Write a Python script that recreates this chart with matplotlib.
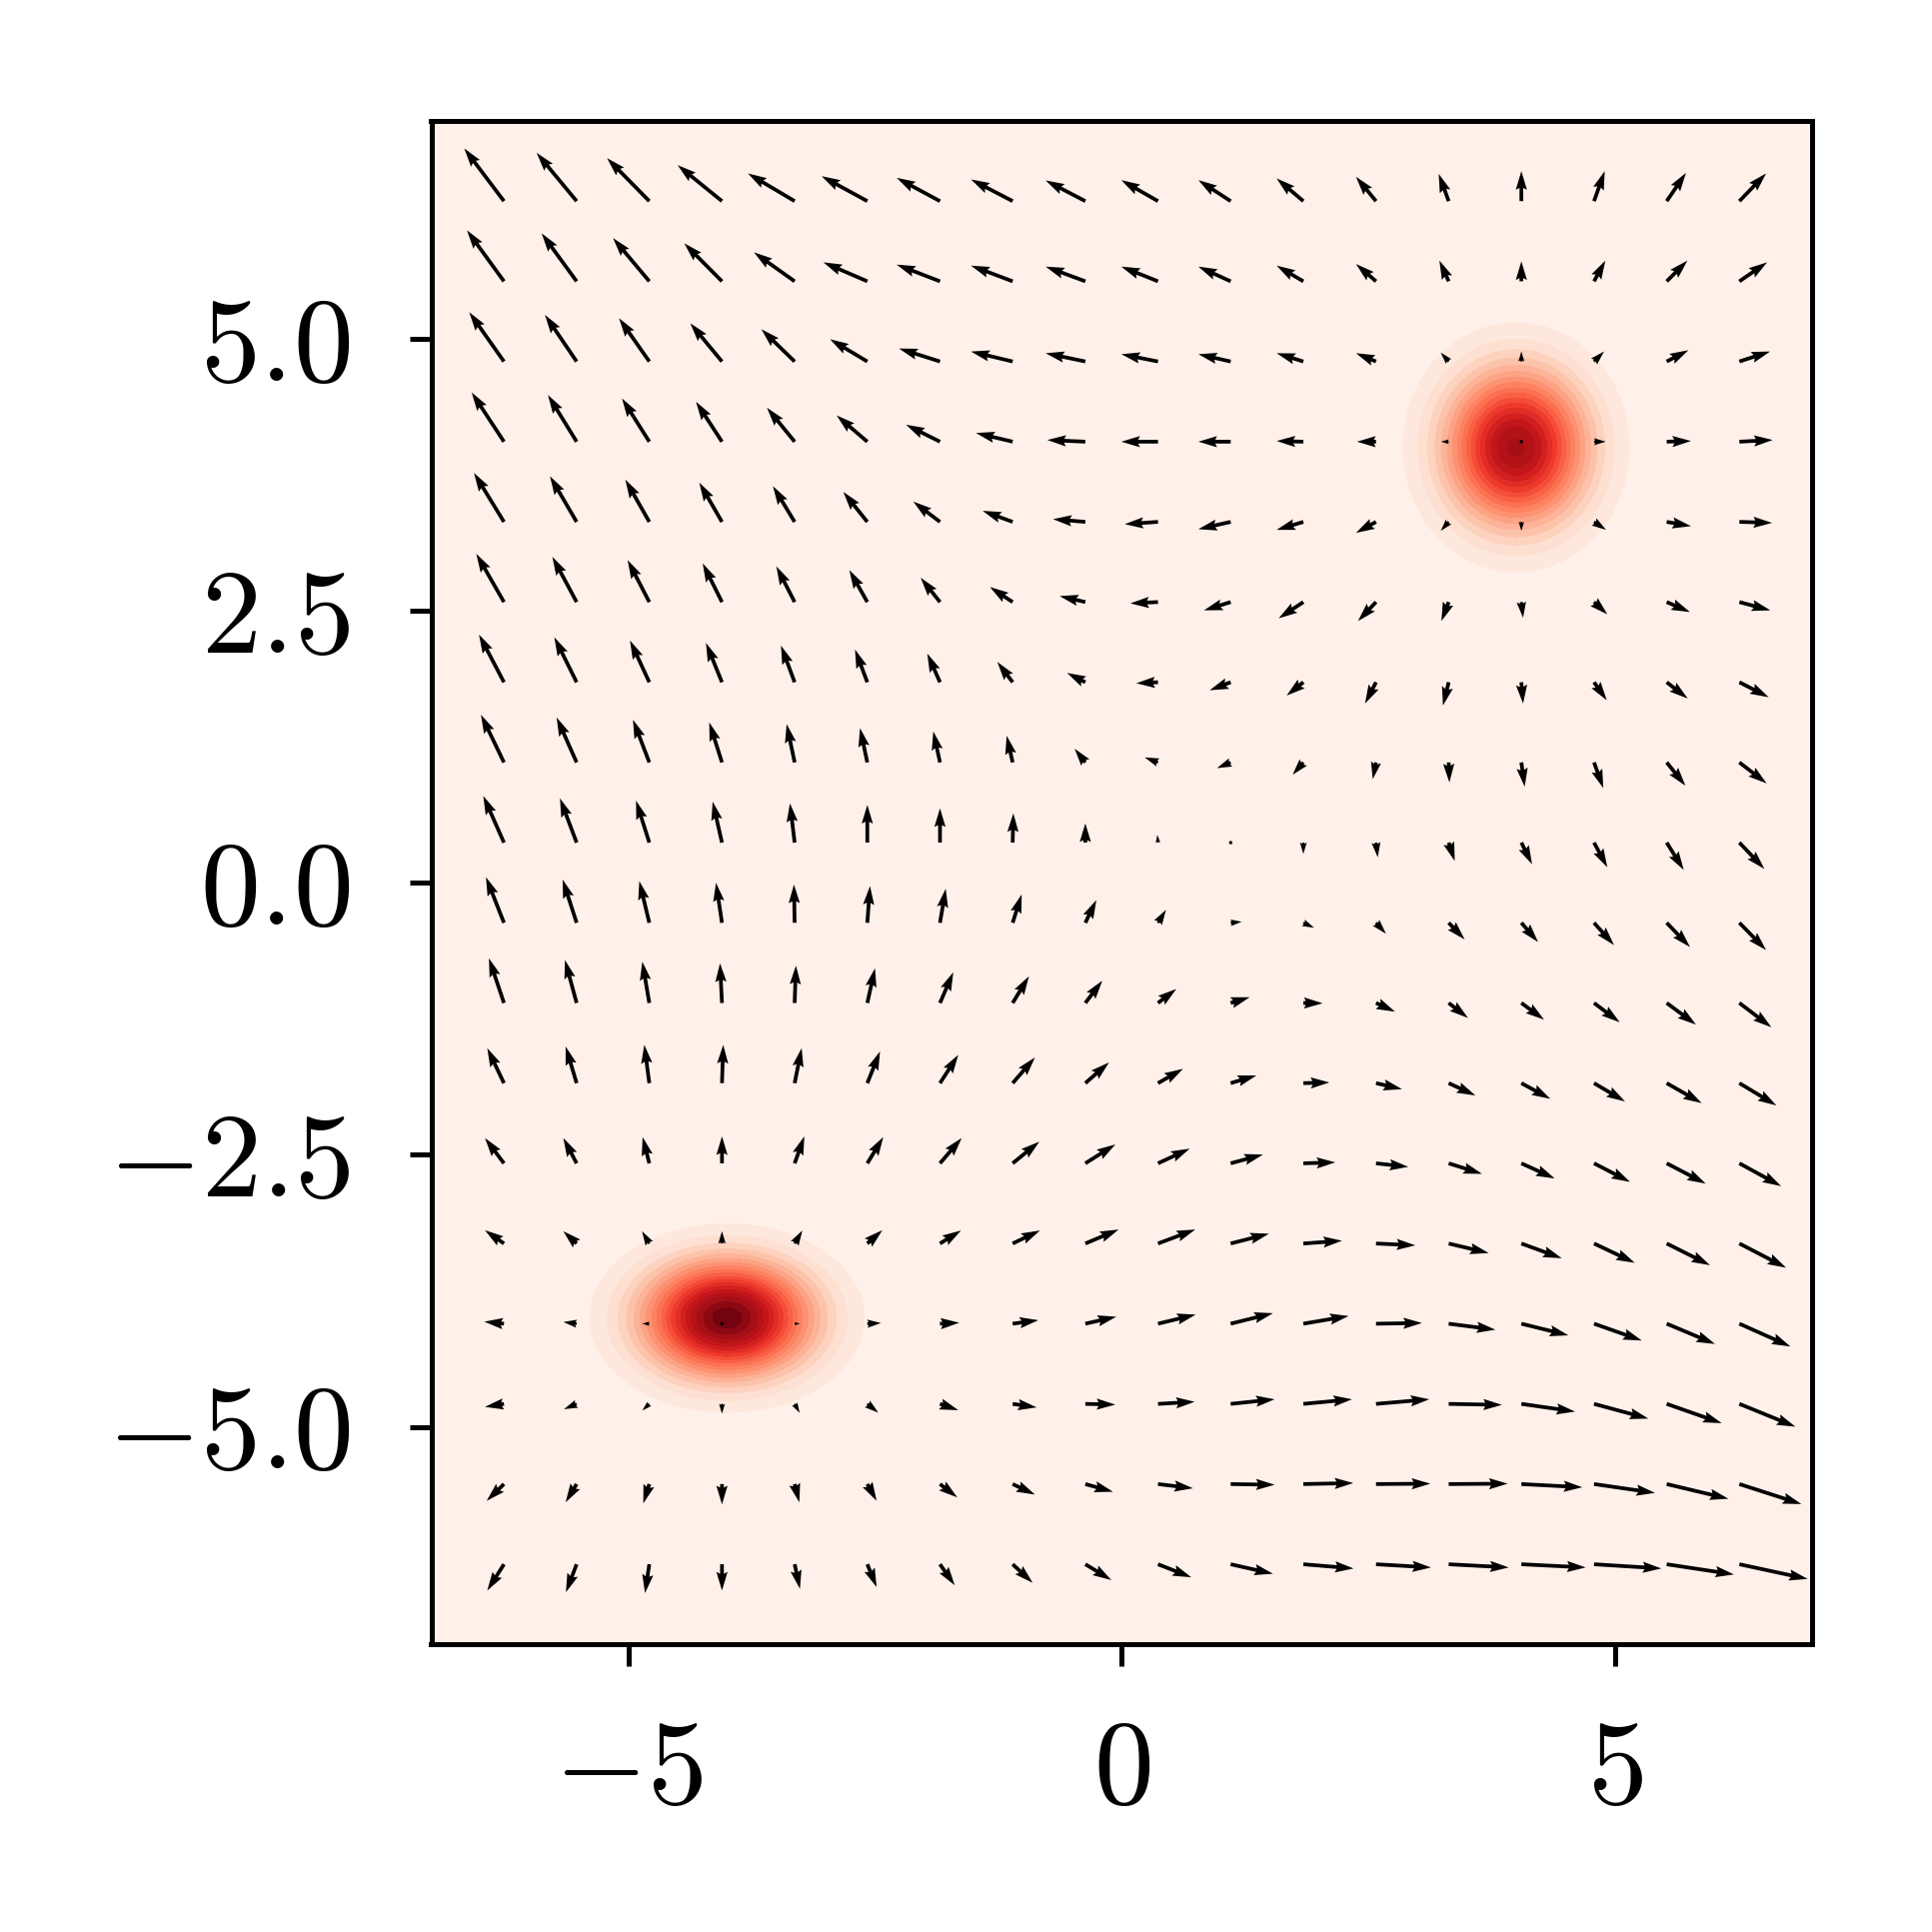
import numpy as np
import matplotlib
matplotlib.use("Agg")
import matplotlib.pyplot as plt

plt.rcParams['mathtext.fontset'] = 'cm'
plt.rcParams['font.family'] = 'serif'
plt.rcParams['font.serif'] = ['cmr10', 'DejaVu Serif']

# grid of the arrows (18 x 18, inner points of a 20 point grid on [-7, 7])
grid = np.linspace(-7, 7, 20)[1:-1]

# vector field, rows from top (y=6.26) to bottom (y=-6.26)
u_rows = [
    [-39.7, -40.0, -42.3, -44.3, -46.7, -45.7, -43.3, -41.7, -39.7, -36.7, -32.3, -26.7, -20.0, -10.0, 0.0, 10.7, 19.3, 26.7],
    [-37.0, -35.0, -36.3, -37.7, -40.7, -44.0, -43.3, -41.7, -39.7, -36.7, -32.3, -26.7, -20.0, -9.3, 0.0, 11.3, 20.7, 27.7],
    [-34.7, -31.7, -30.3, -31.7, -33.3, -37.3, -41.0, -41.7, -39.7, -36.7, -32.3, -26.7, -20.0, -8.0, 0.0, 10.0, 21.7, 30.7],
    [-32.3, -28.7, -27.3, -26.0, -27.7, -30.7, -34.0, -36.7, -38.0, -36.7, -32.3, -26.7, -19.0, -7.7, 0.0, 11.7, 24.3, 33.3],
    [-30.0, -26.7, -24.0, -22.7, -21.7, -24.0, -26.7, -30.0, -32.3, -33.3, -32.3, -26.7, -20.0, -8.0, 0.0, 12.0, 24.3, 32.7],
    [-27.7, -24.3, -21.7, -19.3, -18.3, -18.0, -19.3, -22.7, -25.7, -27.7, -26.7, -24.7, -18.0, -7.3, 1.7, 13.3, 23.3, 31.0],
    [-25.0, -22.3, -19.3, -16.0, -13.7, -12.3, -12.7, -15.3, -18.3, -21.7, -21.0, -16.7, -11.0, -5.7, 1.7, 12.7, 21.0, 29.3],
    [-23.0, -20.0, -16.3, -12.7, -8.0, -7.3, -6.7, -6.0, -10.7, -13.3, -13.7, -10.7, -3.3, 0.7, 3.3, 9.3, 18.7, 27.3],
    [-20.7, -16.7, -13.3, -9.3, -4.7, 0.0, 0.0, 0.7, 0.0, -0.7, 0.0, 0.0, 1.7, 6.0, 10.7, 13.3, 17.0, 25.0],
    [-18.0, -14.0, -10.0, -6.0, -0.7, 2.7, 5.7, 9.0, 11.0, 8.0, 11.0, 10.7, 10.0, 16.0, 16.7, 20.0, 23.3, 26.7],
    [-15.0, -11.7, -7.0, -2.0, 1.3, 7.7, 13.3, 16.3, 17.0, 18.3, 19.0, 19.3, 19.0, 19.3, 22.7, 25.7, 29.3, 32.0],
    [-16.7, -11.0, -5.0, 1.3, 7.0, 12.7, 18.3, 22.3, 23.7, 25.0, 25.7, 26.0, 26.0, 26.7, 29.0, 31.0, 35.0, 37.0],
    [-19.0, -13.3, -6.7, 0.0, 9.7, 16.0, 21.7, 26.7, 30.0, 31.7, 32.3, 32.0, 32.3, 33.3, 33.3, 36.0, 39.0, 41.7],
    [-19.0, -13.3, -7.3, 0.0, 7.7, 15.0, 21.0, 27.3, 33.3, 37.3, 38.3, 38.7, 39.3, 40.0, 40.3, 40.7, 43.3, 46.7],
    [-19.7, -13.3, -7.0, 0.0, 5.3, 13.7, 19.3, 25.7, 31.0, 37.7, 42.3, 45.3, 46.0, 46.7, 47.0, 47.7, 48.3, 51.0],
    [-19.0, -12.7, -7.0, 0.0, 5.0, 11.0, 18.3, 24.0, 30.0, 36.7, 44.0, 48.7, 53.3, 53.3, 53.7, 54.3, 55.0, 56.0],
    [-17.3, -11.0, -6.0, 0.0, 4.7, 9.3, 17.3, 22.3, 27.7, 35.0, 44.0, 50.0, 54.3, 59.0, 61.0, 61.0, 61.7, 62.0],
    [-16.7, -10.7, -4.3, 0.0, 5.3, 9.3, 14.7, 20.0, 26.0, 33.3, 42.3, 50.3, 55.0, 60.0, 64.3, 67.3, 67.3, 68.3],
]
v_rows = [
    [52.7, 48.3, 43.0, 36.0, 27.7, 25.0, 23.3, 21.7, 20.7, 21.0, 21.0, 22.7, 24.3, 27.3, 30.0, 30.0, 28.3, 27.7],
    [51.0, 48.0, 43.3, 38.0, 29.0, 19.0, 16.7, 15.7, 14.7, 14.7, 14.7, 15.7, 17.3, 20.7, 20.0, 20.7, 20.7, 19.0],
    [49.3, 46.7, 43.3, 38.3, 32.3, 22.3, 13.0, 10.0, 8.3, 7.3, 7.3, 8.3, 8.3, 9.0, 10.0, 10.0, 11.3, 10.0],
    [49.3, 46.7, 43.3, 40.0, 34.0, 26.3, 17.0, 8.7, 1.7, 0.0, 0.0, 0.7, 0.0, 0.0, 0.0, 0.0, 0.7, 1.7],
    [49.0, 45.7, 42.3, 39.3, 35.7, 30.0, 20.3, 11.0, 2.7, -2.3, -7.3, -8.0, -11.0, -9.0, -9.0, -8.0, -4.3, -1.0],
    [48.3, 45.3, 42.0, 38.7, 35.7, 32.0, 24.3, 15.0, 6.0, -1.3, -8.3, -16.3, -19.0, -19.0, -15.7, -12.3, -10.0, -8.3],
    [47.7, 45.0, 41.7, 39.3, 36.7, 32.7, 28.7, 20.3, 9.3, -1.0, -8.0, -13.3, -21.3, -23.3, -21.3, -18.0, -16.3, -15.0],
    [47.7, 45.0, 42.7, 40.0, 38.3, 34.3, 31.0, 26.7, 13.7, 5.0, -5.7, -12.3, -16.7, -20.0, -24.3, -25.7, -23.3, -21.0],
    [46.7, 44.3, 42.0, 41.0, 39.3, 37.7, 34.3, 29.3, 19.3, 7.7, 0.0, -11.3, -14.7, -18.3, -21.7, -24.7, -27.3, -26.3],
    [45.7, 43.3, 41.7, 40.0, 38.3, 36.7, 34.0, 28.3, 22.7, 13.0, 1.0, -5.0, -11.0, -16.7, -19.3, -22.3, -24.3, -27.3],
    [44.7, 43.0, 41.3, 39.7, 37.3, 34.7, 30.7, 26.7, 22.3, 14.0, 5.7, -0.3, -8.7, -15.0, -16.7, -19.3, -21.7, -24.3],
    [35.0, 36.7, 38.3, 38.3, 35.0, 31.7, 28.3, 25.7, 20.7, 14.3, 7.7, 0.7, -6.0, -12.3, -15.7, -18.3, -20.0, -22.3],
    [25.3, 25.3, 26.3, 27.0, 27.0, 26.3, 25.3, 21.7, 18.9, 14.7, 8.8, 1.0, -3.5, -10.5, -15.1, -18.6, -20.3, -22.8],
    [13.3, 12.3, 12.3, 12.3, 13.0, 13.3, 13.0, 13.0, 14.0, 14.0, 9.8, 2.8, -1.8, -9.5, -14.7, -19.3, -21.7, -24.2],
    [2.0, 1.7, 0.0, 0.0, 0.0, 0.7, 1.0, 3.5, 7.0, 9.1, 10.5, 7.7, 0.7, -6.0, -11.6, -16.8, -20.3, -22.8],
    [-3.0, -5.3, -6.7, -9.8, -9.0, -8.8, -6.3, -3.5, -0.7, 2.1, 4.6, 4.6, 4.6, -1.0, -7.7, -14.7, -19.3, -22.8],
    [-16.8, -18.2, -19.3, -20.3, -18.2, -16.8, -13.3, -10.5, -7.7, -4.2, -0.7, 1.0, 0.4, 0.4, -3.2, -8.8, -14.7, -20.0],
    [-26.3, -28.0, -28.8, -26.3, -24.6, -22.8, -21.0, -18.6, -15.8, -13.0, -9.5, -4.2, -3.2, -3.2, -3.2, -4.2, -10.2, -14.7],
]

# the two density bumps: centre x, centre y, spread x, spread y, weight
bump_cx = [-4.0, 4.0]
bump_cy = [-4.0, 4.0]
bump_sx = [0.57, 0.48]
bump_sy = [0.355, 0.48]
bump_w = [0.5, 0.5]

xx = np.linspace(-7, 7, 400)
GX, GY = np.meshgrid(xx, xx)
Z = np.zeros_like(GX)
for cx, cy, sx, sy, w in zip(bump_cx, bump_cy, bump_sx, bump_sy, bump_w):
    Z += w / (2 * np.pi * sx * sy) * np.exp(-0.5 * (((GX - cx) / sx) ** 2 + ((GY - cy) / sy) ** 2))

X, Y = np.meshgrid(grid, grid[::-1])
U = np.array(u_rows)
V = np.array(v_rows)

dpi = 450
fig = plt.figure(figsize=(1933 / dpi, 1933 / dpi), dpi=dpi)
ax = fig.add_axes([431.5 / 1933, (1933 - 1645.3) / 1933, (1813 - 431.5) / 1933, (1645.3 - 121) / 1933])

ax.contourf(GX, GY, Z, levels=20, cmap='Reds')
ax.quiver(X, Y, U, V, angles='uv', scale_units='dots', scale=1.0, width=0.0027, color='black')

ax.set_xlim(-7, 7)
ax.set_ylim(-7, 7)
ax.set_xticks([-5, 0, 5], labels=[r'$-5$', r'$0$', r'$5$'])
ax.set_yticks([-5, -2.5, 0, 2.5, 5], labels=[r'$-5.0$', r'$-2.5$', r'$0.0$', r'$2.5$', r'$5.0$'])
ax.tick_params(labelsize=19.2, pad=9.5)
ax.tick_params(axis='x', pad=8.5)

fig.savefig('out.png', dpi=dpi)
